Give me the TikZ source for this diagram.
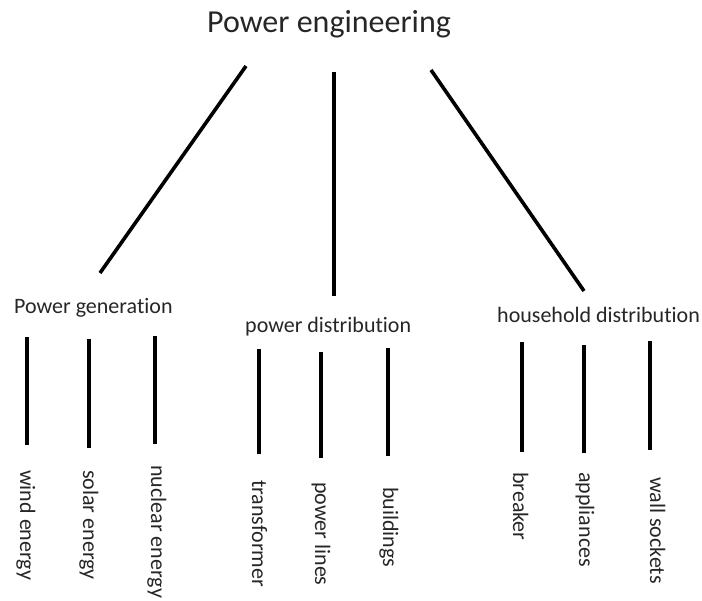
\documentclass[tikz,border=0pt]{standalone}
\usepackage{fontspec}
\setmainfont{Carlito}[Ligatures=NoCommon]
\begin{document}
\begin{tikzpicture}[x=1pt,y=-1pt,
  conn/.style={line width=3.6pt,black},
  title/.style={anchor=base west,inner sep=0pt,font=\fontsize{32}{38}\selectfont,text=black!85},
  cat/.style={anchor=base west,inner sep=0pt,font=\fontsize{22}{26}\selectfont,text=black!85},
  leaf/.style={anchor=base west,inner sep=0pt,rotate=-90,font=\fontsize{22}{26}\selectfont,text=black!85}]
\useasboundingbox (0,0) rectangle (702,601);
% top
\node[title] (pe) at (207,33) {Power engineering};
% categories
\node[cat] (gen) at (14,314) {Power generation};
\node[cat] (dist) at (245,333) {power distribution};
\node[cat] (house) at (497,323) {household distribution};
% top connectors
\coordinate (pe1) at (246,66);
\coordinate (pe2) at (334,72);
\coordinate (pe3) at (431,70);
\coordinate (gen0) at (100,273);
\coordinate (dist0) at (334,296);
\coordinate (house0) at (584,291);
\draw[conn] (pe1) -- (gen0);
\draw[conn] (pe2) -- (dist0);
\draw[conn] (pe3) -- (house0);
% leaves
\node[leaf] (l1) at (20,470) {wind energy};
\node[leaf] (l2) at (83,470) {solar energy};
\node[leaf] (l3) at (151,465) {nuclear energy};
\node[leaf] (l4) at (252,480) {transformer};
\node[leaf] (l5) at (315,482) {power lines};
\node[leaf] (l6) at (383,487) {buildings};
\node[leaf] (l7) at (513,472) {breaker};
\node[leaf] (l8) at (579,472) {appliances};
\node[leaf] (l9) at (650,477) {wall sockets};
% leaf connectors
\coordinate (a1) at (27,337); \coordinate (b1) at (27,445);
\coordinate (a2) at (89,339); \coordinate (b2) at (89,448);
\coordinate (a3) at (155,336); \coordinate (b3) at (155,444);
\coordinate (a4) at (259,349); \coordinate (b4) at (259,454);
\coordinate (a5) at (321,352); \coordinate (b5) at (321,458);
\coordinate (a6) at (388,348); \coordinate (b6) at (388,456);
\coordinate (a7) at (522,342); \coordinate (b7) at (522,452);
\coordinate (a8) at (584,345); \coordinate (b8) at (584,453);
\coordinate (a9) at (650,341); \coordinate (b9) at (650,450);
\foreach \i in {1,...,9} {\draw[conn] (a\i) -- (b\i);}
\end{tikzpicture}
\end{document}
